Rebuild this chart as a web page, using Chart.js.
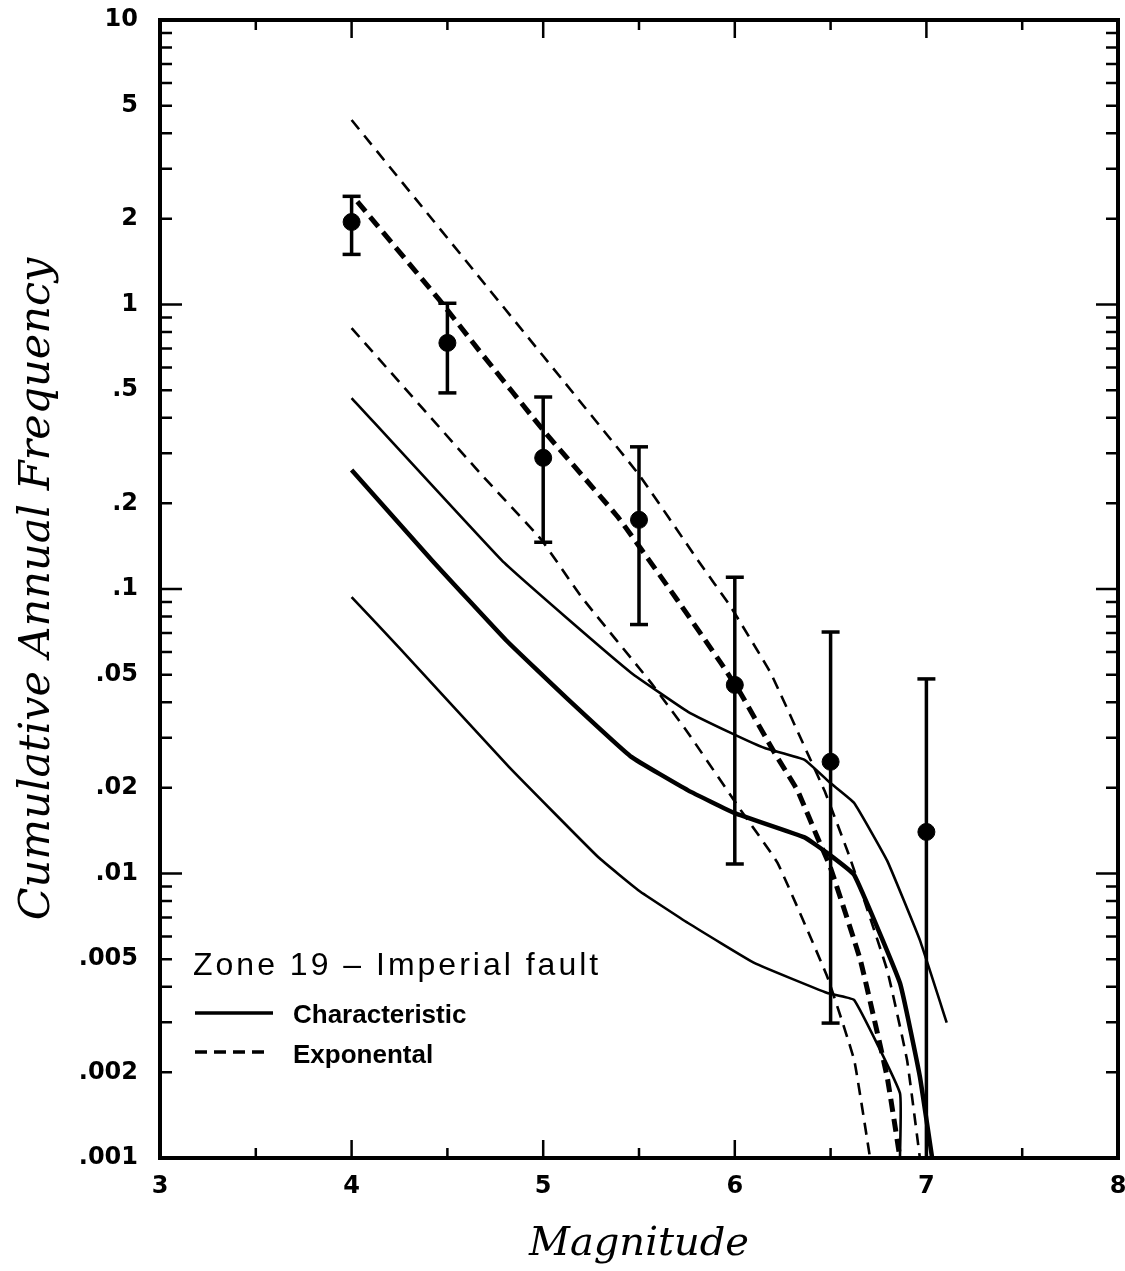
<!DOCTYPE html>
<html>
<head>
<meta charset="utf-8">
<script src="https://cdn.jsdelivr.net/npm/chart.js@4.4.1/dist/chart.umd.min.js"></script>
<style>
  html, body { margin: 0; padding: 0; background: #fff; overflow: hidden; }
  #wrap { width: 1125px; height: 1271px; position: relative; }
  #myChart { display: block; }
</style>
</head>
<body>
<div id="wrap"><canvas id="myChart"></canvas></div>
<script>
// observed cumulative rates with error bars
var magnitudes = [4, 4.5, 5, 5.5, 6, 6.5, 7];
var observedRate = [1.95, 0.733, 0.289, 0.175, 0.046, 0.0247, 0.014];
var rateUpper = [2.4, 1.01, 0.473, 0.316, 0.110, 0.0706, 0.0483];
var rateLower = [1.5, 0.489, 0.146, 0.075, 0.0108, 0.00298, 0.001];

// characteristic model (solid)
var charUpperM = [4.0, 4.784, 5.117, 5.46, 5.756, 5.979, 6.156, 6.364, 6.499, 6.623, 6.795, 6.966, 7.106];
var charUpperRate = [0.469, 0.126, 0.0797, 0.0507, 0.037, 0.0312, 0.0276, 0.0251, 0.0208, 0.0177, 0.0111, 0.00583, 0.00299];
var charMidM = [4.0, 4.42, 4.805, 5.117, 5.46, 5.756, 6.0, 6.364, 6.483, 6.623, 6.862, 6.966, 7.03];
var charMidRate = [0.262, 0.126, 0.0662, 0.0417, 0.0257, 0.0196, 0.0163, 0.0134, 0.0118, 0.00989, 0.00412, 0.00193, 0.001];
var charLowM = [4.0, 4.249, 4.821, 5.288, 5.5, 5.756, 6.104, 6.483, 6.623, 6.862, 6.862];
var charLowRate = [0.0937, 0.0621, 0.0237, 0.0114, 0.0087, 0.0067, 0.00484, 0.0038, 0.00359, 0.00169, 0.001];

// exponential model (dashed)
var expUpperM = [4.0, 5.0, 5.5, 5.808, 5.979, 6.187, 6.395, 6.473, 6.60, 6.795, 6.899, 6.966];
var expUpperRate = [4.45, 0.659, 0.252, 0.126, 0.0865, 0.0507, 0.0251, 0.0192, 0.0114, 0.00458, 0.00221, 0.001];
var expMidM = [4.03, 4.457, 4.665, 5.013, 5.39, 5.70, 5.927, 6.03, 6.208, 6.327, 6.431, 6.499, 6.655, 6.795, 6.862];
var expMidRate = [2.3, 1.04, 0.69, 0.353, 0.179, 0.0915, 0.055, 0.043, 0.0265, 0.0196, 0.0134, 0.0105, 0.00497, 0.00193, 0.001];
var expLowM = [4.0, 4.665, 4.99, 5.2, 5.564, 5.756, 6.031, 6.223, 6.483, 6.623, 6.706];
var expLowRate = [0.826, 0.258, 0.149, 0.0937, 0.0467, 0.0312, 0.0167, 0.0109, 0.00433, 0.00221, 0.001];

var xTickLabels = ['3', '4', '5', '6', '7', '8'];
var yTickValues = [0.001, 0.002, 0.005, 0.01, 0.02, 0.05, 0.1, 0.2, 0.5, 1, 2, 5, 10];
var yTickLabels = ['.001', '.002', '.005', '.01', '.02', '.05', '.1', '.2', '.5', '1', '2', '5', '10'];

function pts(ms, rs) {
    return ms.map(function (m, i) { return { x: m, y: rs[i] }; });
}

function curve(ms, rs, width, dash) {
    return {
        data: pts(ms, rs),
        showLine: true,
        borderColor: '#000',
        borderWidth: width,
        borderDash: dash || [],
        borderCapStyle: 'butt',
        borderJoinStyle: 'round',
        pointRadius: 0,
        fill: false,
        tension: 0.1
    };
}

var datasets = [
    curve(charUpperM, charUpperRate, 2.6),
    curve(charMidM, charMidRate, 4.5),
    curve(charLowM, charLowRate, 2.6),
    curve(expUpperM, expUpperRate, 2.6, [12, 8]),
    curve(expMidM, expMidRate, 5, [13, 7]),
    curve(expLowM, expLowRate, 2.6, [12, 8])
];

magnitudes.forEach(function (m, i) {
    datasets.push({
        data: [{ x: m, y: rateLower[i] }, { x: m, y: rateUpper[i] }],
        showLine: true,
        borderColor: '#000',
        borderWidth: 3.5,
        pointStyle: 'line',
        pointRadius: function (c) { return c.raw && c.raw.y <= 0.001 ? 0 : 9; },
        pointBorderWidth: 3.5,
        pointBorderColor: '#000'
    });
});

datasets.push({
    data: pts(magnitudes, observedRate),
    showLine: false,
    pointStyle: 'circle',
    pointRadius: 8.5,
    pointBackgroundColor: '#000',
    pointBorderColor: '#000',
    pointBorderWidth: 1
});

// frame, inward ticks and the legend box
var framePlugin = {
    id: 'frame',
    afterDatasetsDraw: function (chart) {
        var ctx = chart.ctx;
        var a = chart.chartArea;
        var xs = chart.scales.x, ys = chart.scales.y;
        ctx.save();
        ctx.strokeStyle = '#000';
        ctx.lineWidth = 2.5;
        ctx.beginPath();
        for (var m = 3.5; m < 8; m += 0.5) {
            var px = xs.getPixelForValue(m);
            var len = (m % 1 === 0) ? 18 : 10;
            ctx.moveTo(px, a.bottom); ctx.lineTo(px, a.bottom - len);
            ctx.moveTo(px, a.top); ctx.lineTo(px, a.top + len);
        }
        for (var d = -3; d <= 0; d++) {
            for (var k = 1; k <= 9; k++) {
                var v = k * Math.pow(10, d);
                var py = ys.getPixelForValue(v);
                var l = (k === 1) ? 22 : 12;
                ctx.moveTo(a.left, py); ctx.lineTo(a.left + l, py);
                ctx.moveTo(a.right, py); ctx.lineTo(a.right - l, py);
            }
        }
        ctx.stroke();
        ctx.lineWidth = 4;
        ctx.strokeRect(a.left, a.top, a.right - a.left, a.bottom - a.top);

        // legend
        var lx = a.left + 33;
        ctx.fillStyle = '#000';
        ctx.textBaseline = 'alphabetic';
        ctx.font = '32px "Liberation Sans", Arial, sans-serif';
        ctx.letterSpacing = '3px';
        ctx.fillText('Zone 19 \u2013 Imperial fault', lx, 975);
        ctx.font = 'bold 26px "Liberation Sans", Arial, sans-serif';
        ctx.letterSpacing = '0px';
        ctx.fillText('Characteristic', 293, 1023);
        ctx.fillText('Exponental', 293, 1063);
        ctx.lineWidth = 3.5;
        ctx.beginPath();
        ctx.moveTo(lx + 2, 1013); ctx.lineTo(273, 1013);
        ctx.stroke();
        ctx.setLineDash([12, 7]);
        ctx.beginPath();
        ctx.moveTo(lx + 2, 1052); ctx.lineTo(268, 1052);
        ctx.stroke();
        ctx.restore();
    }
};

var tickFont = { family: '"DejaVu Sans", sans-serif', size: 24, weight: 'bold' };

var ctx = document.getElementById('myChart');
var myChart = new Chart(ctx, {
    type: 'scatter',
    data: { datasets: datasets },
    options: {
        responsive: true,
        maintainAspectRatio: false,
        animation: false,
        layout: { autoPadding: false, padding: { left: 0, top: 20, right: 7, bottom: 0 } },
        plugins: {
            legend: { display: false },
            tooltip: { enabled: false }
        },
        scales: {
            x: {
                type: 'linear',
                min: 3,
                max: 8,
                grid: { display: false, drawTicks: false },
                border: { display: false },
                afterFit: function (s) {
                    s.height = 113;
                    s.paddingLeft = 0;
                    s.paddingRight = 0;
                },
                afterBuildTicks: function (s) {
                    s.ticks = xTickLabels.map(function (t) { return { value: Number(t) }; });
                },
                ticks: {
                    padding: 14,
                    color: '#000',
                    font: tickFont,
                    callback: function (v, i) { return xTickLabels[i]; }
                },
                title: {
                    display: true,
                    text: 'Magnitude',
                    color: '#000',
                    padding: { top: 0, bottom: 2 },
                    font: { family: '"DejaVu Serif", serif', size: 40, style: 'italic' }
                }
            },
            y: {
                type: 'logarithmic',
                min: 0.001,
                max: 10,
                grid: { display: false, drawTicks: false },
                border: { display: false },
                afterFit: function (s) {
                    s.width = 160;
                    s.paddingTop = 0;
                    s.paddingBottom = 0;
                },
                afterBuildTicks: function (s) {
                    s.ticks = yTickValues.map(function (v) { return { value: v }; });
                },
                ticks: {
                    padding: 22,
                    color: '#000',
                    autoSkip: false,
                    font: tickFont,
                    callback: function (v, i) { return yTickLabels[i]; }
                },
                title: {
                    display: true,
                    text: 'Cumulative Annual Frequency',
                    color: '#000',
                    padding: { top: 12, bottom: 0 },
                    font: { family: '"DejaVu Serif", serif', size: 43, style: 'italic' }
                }
            }
        }
    },
    plugins: [framePlugin]
});
</script>
</body>
</html>
